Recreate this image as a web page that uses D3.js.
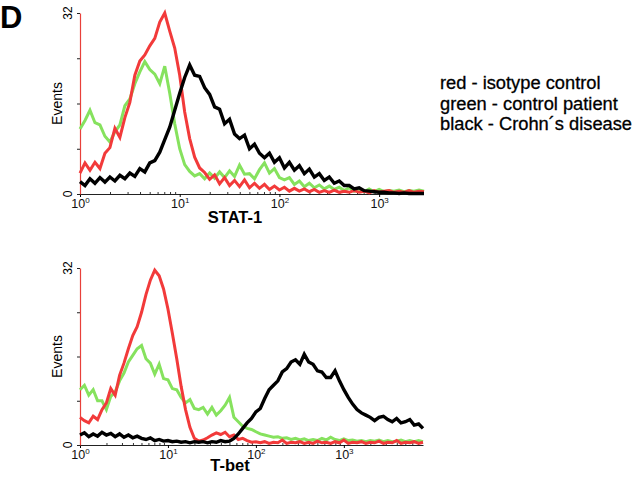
<!DOCTYPE html>
<html>
<head>
<meta charset="utf-8">
<script src="https://cdn.jsdelivr.net/npm/d3@7"></script>
<style>
  body { margin: 0; background: #fff; }
  svg { display: block; font-family: "Liberation Sans", Arial, sans-serif; }
</style>
</head>
<body>
<div id="chart"></div>
<script>
// histogram channels, in decades of fluorescence (log10), one value per channel
var binStep = 0.05;

// STAT-1 panel (decades 0 .. 3.45)
var stat1Red = [3.7, 5.5, 4.2, 5.6, 4.5, 7.2, 8.2, 11.6, 10.0, 13.5,
  16.2, 21.0, 23.5, 24.6, 26.2, 27.5, 30.4, 32.0, 28.8, 25.8,
  21.0, 14.5, 9.8, 6.5, 4.6, 3.8, 2.6, 3.4, 1.8, 2.9,
  1.5, 2.4, 1.3, 2.5, 1.1, 1.9, 1.0, 1.7, 0.8, 1.4,
  0.7, 1.2, 0.5, 1.0, 0.5, 0.9, 0.4, 0.8, 0.3, 0.6,
  0.3, 0.7, 0.3, 0.5, 0.3, 0.6, 0.3, 0.5, 0.2, 0.6,
  0.3, 0.5, 0.6, 0.3, 0.5, 0.3, 0.6, 0.3, 0.5, 0.4];
var stat1Green = [11.5, 13.0, 14.8, 12.6, 12.2, 10.2, 9.2, 11.0, 12.2, 15.6,
  16.8, 19.5, 21.6, 23.4, 22.0, 21.2, 19.5, 22.6, 17.8, 12.4,
  8.0, 5.2, 4.0, 3.2, 3.6, 2.7, 3.7, 2.8, 3.9, 2.9,
  4.1, 3.1, 5.1, 3.5, 3.6, 2.7, 4.3, 5.5, 3.7, 4.5,
  2.9, 2.5, 2.9, 1.7, 2.3, 1.3, 1.9, 1.1, 1.6, 0.9,
  1.4, 0.8, 1.2, 0.6, 1.1, 0.5, 0.9, 0.4, 0.9, 0.4,
  0.8, 0.4, 0.6, 0.5, 0.7, 0.4, 0.6, 0.5, 0.7, 0.5];
var stat1Black = [2.2, 1.5, 2.7, 1.9, 2.9, 2.1, 3.0, 2.3, 3.3, 2.7,
  3.7, 3.1, 4.5, 3.9, 5.5, 5.9, 7.4, 9.6, 11.8, 14.8,
  17.8, 20.6, 22.8, 21.0, 20.8, 18.8, 17.6, 15.4, 15.0, 12.4,
  13.2, 10.6, 9.8, 10.4, 8.0, 8.8, 7.2, 6.4, 7.2, 5.6,
  6.4, 4.6, 5.6, 4.2, 5.0, 3.6, 4.4, 3.0, 3.6, 2.4,
  3.0, 1.9, 2.3, 1.5, 1.5, 0.9, 1.1, 0.6, 0.5, 0.4,
  0.3, 0.3, 0.2, 0.2, 0.1, 0.2, 0.1, 0.1, 0.1, 0.1];

// T-bet panel (decades 0 .. 3.9)
var tbetRed = [5.0, 4.4, 4.0, 5.2, 4.6, 6.4, 7.6, 10.2, 9.0, 12.6,
  14.8, 17.4, 19.8, 21.4, 24.0, 27.2, 29.8, 31.6, 30.6, 28.2,
  24.6, 20.2, 15.6, 10.6, 6.4, 3.2, 1.2, 0.7, 0.9, 1.3,
  1.8, 2.2, 1.9, 2.3, 1.5, 1.8, 1.0, 1.2, 0.8, 0.5,
  0.6, 0.4, 0.6, 0.3, 0.5, 0.4, 0.9, 0.3, 0.5, 0.4,
  0.6, 0.3, 0.5, 0.3, 0.7, 0.4, 0.5, 0.3, 0.6, 0.4,
  0.9, 0.3, 0.5, 0.4, 0.6, 0.3, 0.5, 0.4, 0.7, 0.3,
  0.5, 0.4, 0.8, 0.3, 0.5, 0.4, 0.6, 0.3, 0.5];
var tbetGreen = [10.0, 10.8, 9.0, 10.0, 8.0, 8.0, 6.4, 8.8, 9.6, 11.6,
  13.0, 15.0, 16.2, 17.4, 18.0, 15.6, 14.8, 12.8, 14.6, 12.0,
  11.8, 10.2, 10.0, 8.6, 7.6, 8.2, 6.6, 6.4, 6.8, 5.6,
  6.8, 5.4, 6.2, 7.2, 8.6, 5.0, 4.2, 3.4, 3.0, 2.8,
  2.4, 2.0, 1.8, 1.6, 1.4, 1.5, 1.2, 1.3, 1.0, 1.2,
  0.9, 1.1, 0.8, 1.0, 0.8, 1.2, 0.9, 1.4, 1.0, 0.8,
  1.1, 0.8, 0.9, 0.7, 0.8, 0.6, 0.8, 0.7, 0.9, 0.6,
  0.8, 0.6, 0.7, 0.9, 0.6, 0.8, 0.6, 0.8, 0.6];
var tbetBlack = [1.8, 2.2, 1.5, 2.0, 1.6, 2.3, 1.8, 2.1, 1.5, 2.0,
  1.4, 1.8, 1.3, 1.6, 1.2, 1.0, 1.3, 0.8, 1.0, 0.7,
  0.8, 0.6, 0.7, 0.5, 0.6, 0.4, 0.6, 0.5, 0.6, 0.4,
  0.6, 0.5, 0.8, 0.6, 0.7, 1.2, 2.0, 3.0, 4.0, 4.8,
  6.0, 6.6, 8.4, 10.0, 10.8, 11.6, 13.2, 13.8, 15.0, 15.4,
  14.6, 16.4, 15.0, 14.6, 13.4, 13.2, 12.2, 12.2, 13.4, 11.6,
  10.0, 8.6, 7.4, 6.4, 5.8, 5.4, 5.0, 4.4, 5.0, 5.2,
  4.6, 4.2, 4.8, 4.0, 4.2, 4.6, 3.6, 3.8, 3.0];

var xTickValues = [1, 10, 100, 1000];
var yTickValues = [0, 8, 16, 24, 32];
var yLabelValues = [0, 32];
var legendLines = ["red - isotype control", "green - control patient", "black - Crohn\u00b4s disease"];
var colors = {red: "#f23a3a", green: "#86e25e", black: "#000000"};

var svg = d3.select("#chart").append("svg")
  .attr("width", 640)
  .attr("height", 487);

svg.append("text")
  .attr("x", 0).attr("y", 28)
  .attr("font-size", 31).attr("font-weight", "bold")
  .text("D");

function drawPanel(opt) {
  var x = d3.scaleLog().domain([1, Math.pow(10, opt.maxDecade)]).range([80, 423]);
  var y = d3.scaleLinear().domain([0, 32]).range([opt.bottom, opt.top]);
  var g = svg.append("g");

  // minor log ticks
  var minor = [];
  [1, 10, 100, 1000].forEach(function(b) {
    for (var k = 2; k < 10; k++) if (b * k < x.domain()[1]) minor.push(b * k);
  });
  g.append("g")
    .attr("transform", "translate(0," + opt.bottom + ")")
    .call(d3.axisBottom(x).tickValues(minor).tickSize(-2).tickFormat(""))
    .call(function(a) { a.select(".domain").remove(); a.selectAll("line").attr("stroke", "#333"); });

  var xa = g.append("g")
    .attr("transform", "translate(0," + opt.bottom + ")")
    .call(d3.axisBottom(x).tickValues(xTickValues).tickSizeInner(3).tickSizeOuter(0).tickPadding(2));
  xa.select(".domain").attr("stroke", "#222").attr("stroke-width", 1.2);
  xa.selectAll("text")
    .attr("font-size", 12.5).attr("fill", "#111")
    .each(function(d) {
      var t = d3.select(this).text("");
      t.append("tspan").text("10");
      t.append("tspan").attr("dy", -5).attr("font-size", 8).text(Math.round(Math.log10(d)));
    });

  var ya = g.append("g")
    .attr("transform", "translate(80,0)")
    .call(d3.axisLeft(y).tickValues(yTickValues).tickSizeInner(3).tickSizeOuter(0).tickFormat(""));
  ya.select(".domain").attr("stroke", "#e8403a").attr("stroke-width", 1.2);
  ya.selectAll("line").attr("stroke", "#222");

  g.selectAll(".ylab")
    .data(yLabelValues)
    .enter().append("text")
    .attr("transform", function(d) { return "translate(72," + y(d) + ") rotate(-90)"; })
    .attr("text-anchor", "middle")
    .attr("font-size", 12)
    .text(function(d) { return d; });

  g.append("text")
    .attr("transform", "translate(62," + ((opt.top + opt.bottom) / 2) + ") rotate(-90)")
    .attr("text-anchor", "middle")
    .attr("font-size", 14)
    .text("Events");

  g.append("text")
    .attr("x", opt.titleX).attr("y", opt.titleY)
    .attr("text-anchor", "middle")
    .attr("font-size", 16.5).attr("font-weight", "bold")
    .text(opt.title);

  var line = d3.line()
    .x(function(d, i) { return x(Math.pow(10, i * binStep)); })
    .y(function(d) { return y(d); });

  opt.series.forEach(function(s) {
    g.append("path")
      .datum(s.values)
      .attr("fill", "none")
      .attr("stroke", colors[s.color])
      .attr("stroke-width", s.color == "black" ? 3.4 : 3)
      .attr("stroke-linejoin", "miter")
      .attr("d", line);
  });
}

drawPanel({top: 13, bottom: 194, maxDecade: 3.44, title: "STAT-1", titleX: 235, titleY: 223,
  series: [{color: "green", values: stat1Green}, {color: "red", values: stat1Red}, {color: "black", values: stat1Black}]});
drawPanel({top: 268, bottom: 445, maxDecade: 3.9, title: "T-bet", titleX: 230, titleY: 471,
  series: [{color: "green", values: tbetGreen}, {color: "red", values: tbetRed}, {color: "black", values: tbetBlack}]});

svg.selectAll(".legend")
  .data(legendLines)
  .enter().append("text")
  .attr("x", 440)
  .attr("y", function(d, i) { return 89 + i * 20.5; })
  .attr("font-size", 18.3)
  .attr("fill", "#000")
  .attr("stroke", "#000").attr("stroke-width", 0.3)
  .text(function(d) { return d; });
</script>
</body>
</html>
